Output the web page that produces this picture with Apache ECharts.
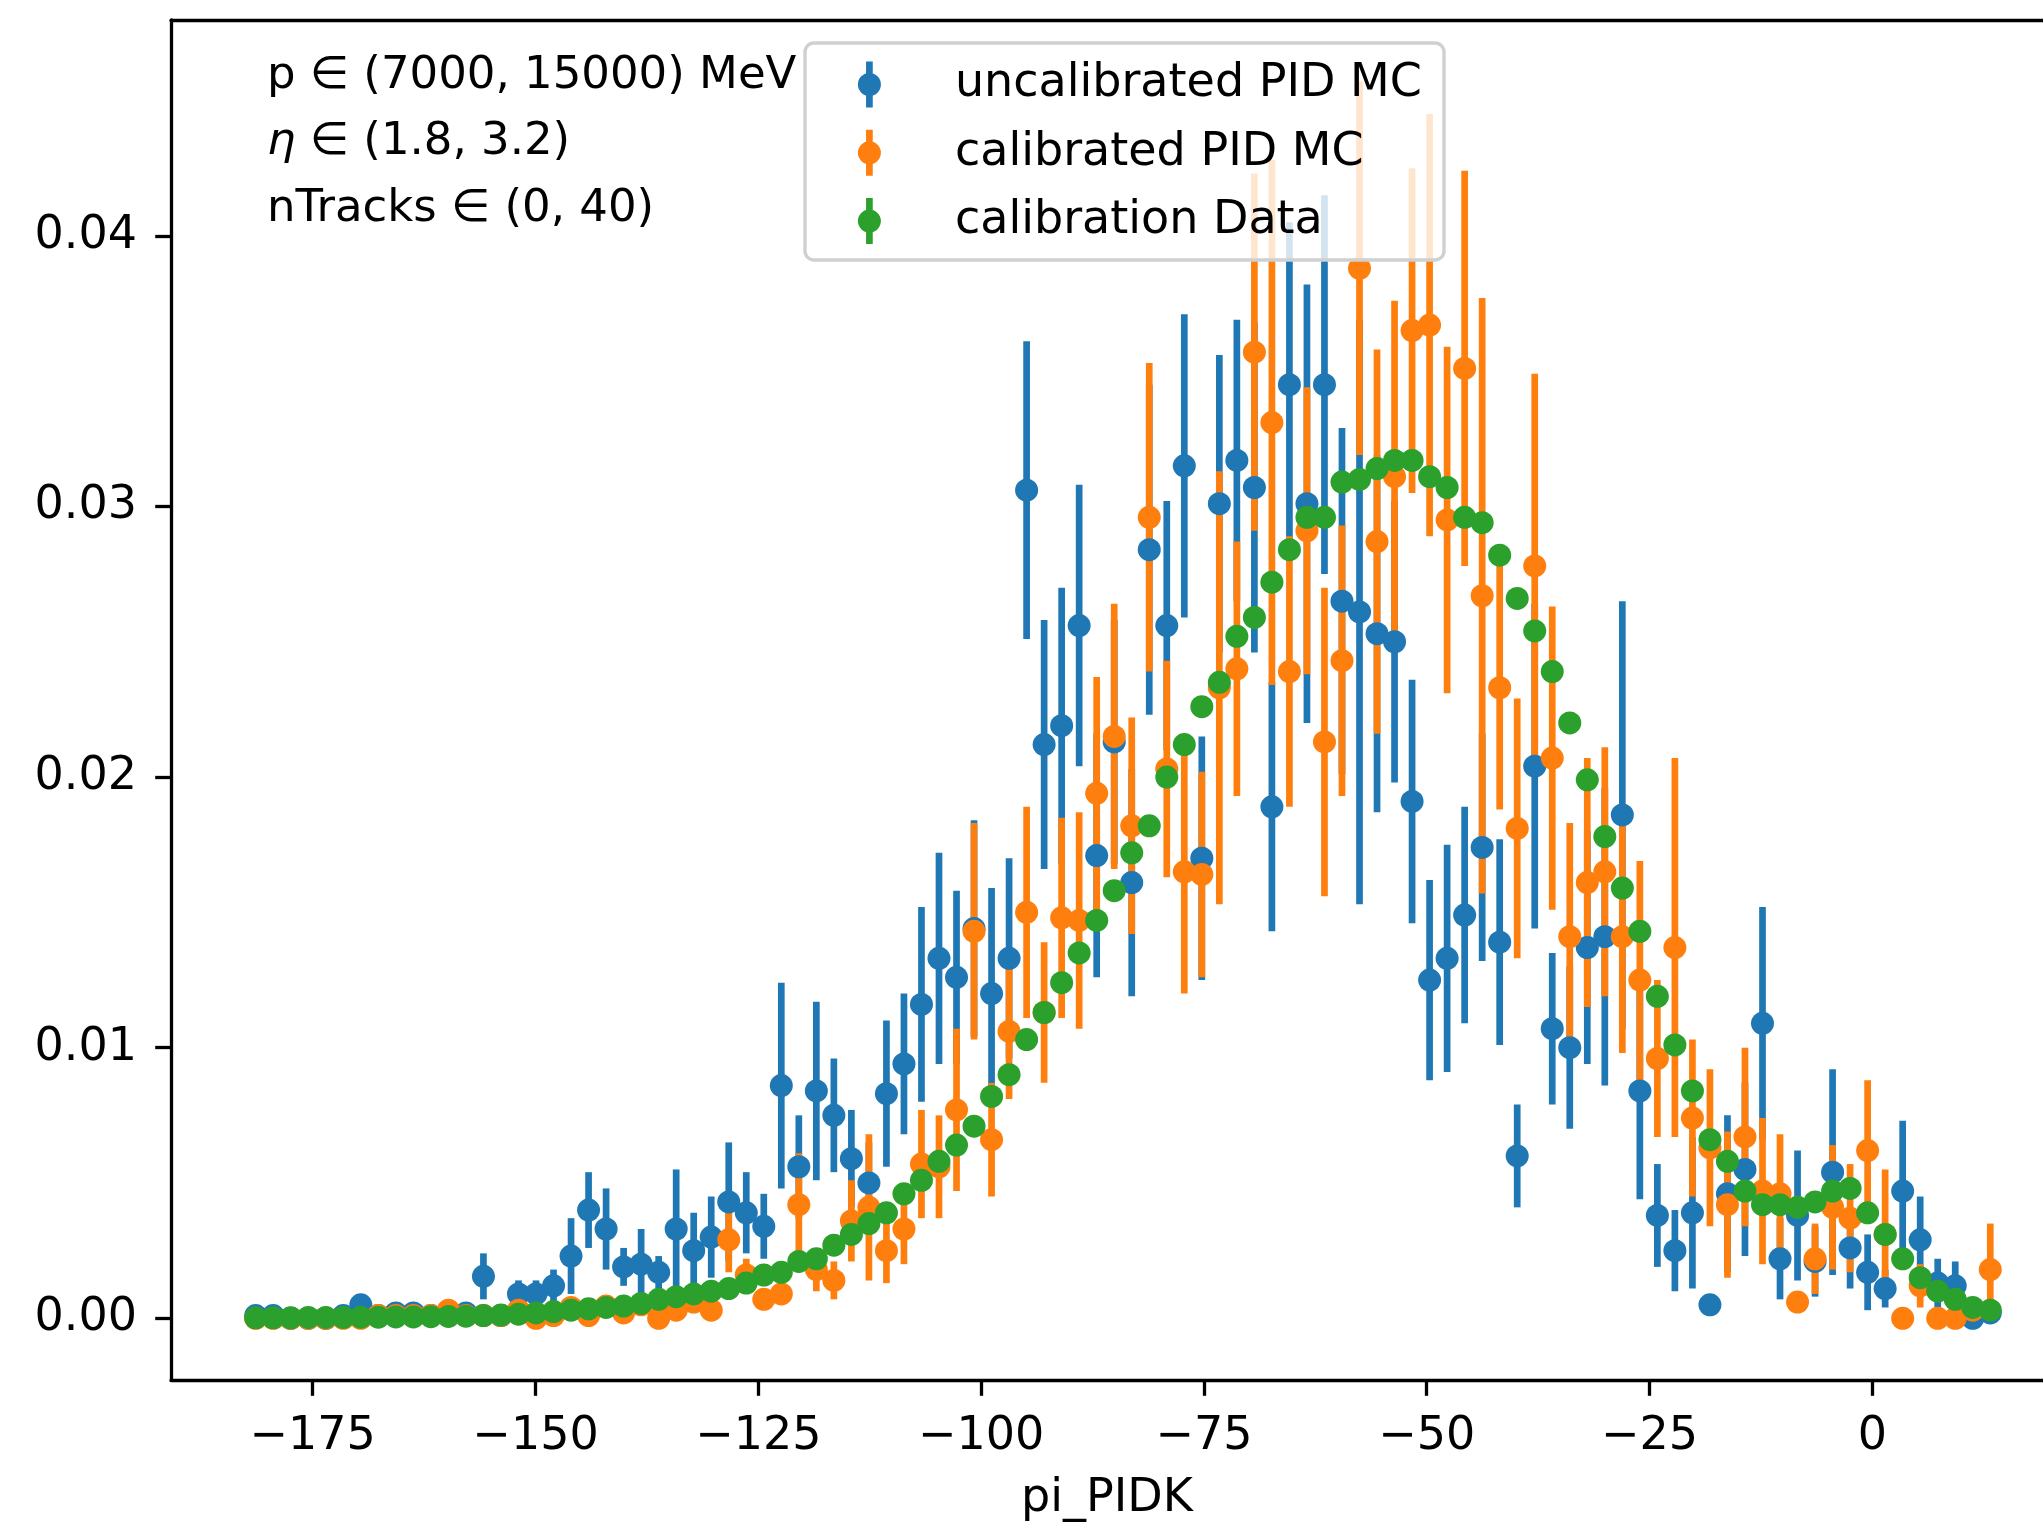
<!DOCTYPE html>
<html><head><meta charset="utf-8">
<script src="https://cdn.jsdelivr.net/npm/echarts@6/dist/echarts.min.js"></script>
<style>html,body{margin:0;padding:0;background:#fff}#c{width:2043px;height:1522px}</style>
</head><body><div id="c"></div>
<script>
// histogram binning of pi_PIDK (100 bins)
const binStart = -181.4, binWidth = 1.966, nBins = 100;
const binCenters = Array.from({length: nBins}, (_, i) => +(binStart + binWidth * i).toFixed(3));

const seriesNames = ['uncalibrated PID MC', 'calibrated PID MC', 'calibration Data'];

const uncal = [0.0001,0.0001,0.0000,0.0000,0.0000,0.0001,0.0005,0.0001,0.0002,0.0002,
  0.0001,0.0001,0.0002,0.00155,0.0001,0.0009,0.0009,0.0012,0.0023,0.0040,
  0.0033,0.0019,0.0020,0.0017,0.0033,0.0025,0.0030,0.0043,0.0039,0.0034,
  0.0086,0.0056,0.0084,0.0075,0.0059,0.0050,0.0083,0.0094,0.0116,0.0133,
  0.0126,0.0144,0.0120,0.0133,0.0306,0.0212,0.0219,0.0256,0.0171,0.0213,
  0.0161,0.0284,0.0256,0.0315,0.0170,0.0301,0.0317,0.0307,0.0189,0.0345,
  0.0301,0.0345,0.0265,0.0261,0.0253,0.0250,0.0191,0.0125,0.0133,0.0149,
  0.0174,0.0139,0.0060,0.0204,0.0107,0.0100,0.0137,0.0141,0.0186,0.0084,
  0.0038,0.0025,0.0039,0.0005,0.0046,0.0055,0.0109,0.0022,0.0038,0.0021,
  0.0054,0.0026,0.0017,0.0011,0.0047,0.0029,0.0013,0.0012,0.0000,0.0002];
const uncalErr = [0.0001,0.0001,0.0001,0.0001,0.0001,0.0001,0.0003,0.0001,0.00015,0.00015,
  0.0001,0.0001,0.00015,0.00085,0.0001,0.0005,0.0005,0.0006,0.0014,0.0014,
  0.0015,0.0007,0.0013,0.0006,0.0022,0.0014,0.0015,0.0022,0.0015,0.0012,
  0.0038,0.0019,0.0033,0.0021,0.0018,0.0015,0.0027,0.0026,0.0036,0.0039,
  0.0032,0.0040,0.0039,0.0037,0.0055,0.0046,0.0051,0.0052,0.0045,0.0045,
  0.0042,0.0061,0.0046,0.0056,0.0045,0.0055,0.0052,0.0061,0.0046,0.0060,
  0.0081,0.0070,0.0064,0.0108,0.0066,0.0052,0.0045,0.0037,0.0042,0.0040,
  0.0042,0.0038,0.0019,0.0060,0.0028,0.0030,0.0043,0.0055,0.0079,0.0040,
  0.0019,0.0015,0.0028,0.0003,0.0029,0.0032,0.0043,0.0015,0.0024,0.0013,
  0.0038,0.0015,0.0014,0.0007,0.0026,0.0016,0.0009,0.0009,0.0001,0.0002];

const cal = [0.0000,0.0000,0.0000,0.0000,0.0000,0.0000,0.0000,0.0001,0.0001,0.0001,
  0.0001,0.0003,0.0001,0.0001,0.0001,0.0003,0.0000,0.0001,0.0004,0.0001,
  0.00045,0.0002,0.0005,0.0000,0.0003,0.0006,0.0003,0.0029,0.0016,0.0007,
  0.0009,0.0042,0.0018,0.0014,0.0036,0.0041,0.0025,0.0033,0.0057,0.0056,
  0.0077,0.0143,0.0066,0.0106,0.0150,0.0113,0.0148,0.0147,0.0194,0.0215,
  0.0182,0.0296,0.0203,0.0165,0.0164,0.0233,0.0240,0.0357,0.0331,0.0239,
  0.0291,0.0213,0.0243,0.0388,0.0287,0.0311,0.0365,0.0367,0.0295,0.0351,
  0.0267,0.0233,0.0181,0.0278,0.0207,0.0141,0.0161,0.0165,0.0141,0.0125,
  0.0096,0.0137,0.0074,0.0063,0.0042,0.0067,0.0047,0.0046,0.0006,0.0022,
  0.0041,0.0037,0.0062,0.0031,0.0000,0.0012,0.0000,0.0000,0.0003,0.0018];
const calErr = [0.0000,0.0000,0.0000,0.0000,0.0000,0.0000,0.0000,0.0001,0.0001,0.0001,
  0.0001,0.0002,0.0001,0.0001,0.0001,0.0002,0.0000,0.0001,0.0002,0.0001,
  0.0002,0.0001,0.0002,0.0000,0.0002,0.0004,0.0002,0.0012,0.0006,0.0003,
  0.0004,0.0019,0.0008,0.0007,0.0015,0.0027,0.0012,0.0013,0.0020,0.0019,
  0.0030,0.0040,0.0021,0.0025,0.0039,0.0026,0.0037,0.0040,0.0043,0.0049,
  0.0040,0.0057,0.0040,0.0045,0.0038,0.0080,0.0047,0.0066,0.0097,0.0050,
  0.0053,0.0057,0.0050,0.0069,0.0071,0.0065,0.0060,0.0078,0.0064,0.0073,
  0.0110,0.0045,0.0048,0.0071,0.0056,0.0042,0.0046,0.0046,0.0043,0.0044,
  0.0029,0.0070,0.0029,0.0029,0.0027,0.0033,0.0027,0.0022,0.0003,0.0013,
  0.0023,0.0020,0.0026,0.0024,0.0000,0.0008,0.0000,0.0000,0.0002,0.0017];

const calibData = [0.00002,0.00002,0.00002,0.00003,0.00003,0.00003,0.00004,0.00004,0.00005,0.00005,
  0.00006,0.00007,0.00008,0.0001,0.00012,0.00015,0.0002,0.00025,0.0003,0.00035,
  0.0004,0.00045,0.00055,0.0007,0.0008,0.0009,0.0010,0.0011,0.0013,0.0016,
  0.0017,0.0021,0.0022,0.0027,0.0031,0.0035,0.0039,0.0046,0.0051,0.0058,
  0.0064,0.0071,0.0082,0.0090,0.0103,0.0113,0.0124,0.0135,0.0147,0.0158,
  0.0172,0.0182,0.0200,0.0212,0.0226,0.0235,0.0252,0.0259,0.0272,0.0284,
  0.0296,0.0296,0.0309,0.0310,0.0314,0.0317,0.0317,0.0311,0.0307,0.0296,
  0.0294,0.0282,0.0266,0.0254,0.0239,0.0220,0.0199,0.0178,0.0159,0.0143,
  0.0119,0.0101,0.0084,0.0066,0.0058,0.0047,0.0042,0.0042,0.0041,0.0043,
  0.0047,0.0048,0.0039,0.0031,0.0022,0.0015,0.0010,0.0007,0.0004,0.0003];
const calibDataErr = [0.00001,0.00001,0.00001,0.00001,0.00001,0.00001,0.00001,0.00001,0.00001,0.00001,
  0.00001,0.00001,0.00001,0.00002,0.00002,0.00002,0.00002,0.00003,0.00003,0.00003,
  0.00003,0.00003,0.00004,0.00004,0.00004,0.00005,0.00005,0.00005,0.00006,0.00006,
  0.00006,0.00007,0.00007,0.00008,0.00008,0.00009,0.00009,0.0001,0.0001,0.0001,
  0.0001,0.0001,0.0001,0.0001,0.0001,0.0001,0.0001,0.0001,0.0001,0.0001,
  0.0001,0.0001,0.0001,0.0001,0.0001,0.0001,0.0001,0.0001,0.0001,0.0001,
  0.0001,0.0001,0.0001,0.0001,0.0001,0.0001,0.0001,0.0001,0.0001,0.0001,
  0.0001,0.0001,0.0001,0.0001,0.0001,0.0001,0.0001,0.0001,0.0001,0.0001,
  0.0001,0.0001,0.0001,0.00008,0.00008,0.00007,0.00007,0.00007,0.00007,0.00007,
  0.00007,0.00007,0.00006,0.00006,0.00005,0.00004,0.00003,0.00003,0.00002,0.00002];

const xTicks = [-175, -150, -125, -100, -75, -50, -25, 0];
const yTicks = [0.00, 0.01, 0.02, 0.03, 0.04];
const annotations = ['p ∈ (7000, 15000) MeV', '{i|η} ∈ (1.8, 3.2)', 'nTracks ∈ (0, 40)'];

const colors = ['#1f77b4', '#ff7f0e', '#2ca02c'];
const FONT = 'DejaVu Sans';
const FS = 46;
const FS_ANN = 45;
const X_MIN = -190.9, X_MAX = 19.15, Y_MIN = -0.00228, Y_MAX = 0.047975;

function errSeries(name, vals, errs, color) {
  return {
    type: 'custom', name: name + ' (err)', silent: true, animation: false,
    data: vals.map((v, i) => [binCenters[i], v - errs[i], v + errs[i]]),
    encode: {x: 0, y: [1, 2]},
    renderItem: (params, api) => {
      const a = api.coord([api.value(0), api.value(1)]);
      const b = api.coord([api.value(0), api.value(2)]);
      return {type: 'line', shape: {x1: a[0], y1: a[1], x2: b[0], y2: b[1]},
              style: {stroke: color, lineWidth: 6.7}};
    }
  };
}
function markSeries(name, vals, color) {
  return {
    type: 'scatter', name: name, symbol: 'circle', symbolSize: 23, silent: true,
    data: vals.map((v, i) => [binCenters[i], v]),
    itemStyle: {color: color, opacity: 1}
  };
}

const legendIcon = 'path://M8.15,0 L14.85,0 L14.85,46 L8.15,46 Z M11.5,11.5 A11.5,11.5 0 1,1 11.5,34.5 A11.5,11.5 0 1,1 11.5,11.5 Z';
const spine = {show: true, onZero: false, lineStyle: {color: '#000', width: 3.3}};
const annFont = FS_ANN + 'px "' + FONT + '"';

const chart = echarts.init(document.getElementById('c'), null, {renderer: 'canvas'});
chart.setOption({
  animation: false,
  backgroundColor: '#fff',
  grid: {left: 171, top: 20, right: 0, bottom: 142, show: false, containLabel: false, outerBoundsMode: 'none'},
  xAxis: [{
    type: 'value', min: X_MIN, max: X_MAX, position: 'bottom',
    name: 'pi_PIDK', nameLocation: 'middle', nameGap: 96,
    nameTextStyle: {fontSize: FS, fontFamily: FONT, color: '#000'},
    axisLine: spine, splitLine: {show: false},
    axisTick: {show: true, length: 15.8, lineStyle: {color: '#000', width: 3.3}, customValues: xTicks},
    axisLabel: {show: true, margin: 34, fontSize: FS, fontFamily: FONT, color: '#000',
      customValues: xTicks,
      formatter: v => (v < 0 ? '\u2212' + Math.abs(v) : String(v))}
  }, {
    type: 'value', min: X_MIN, max: X_MAX, position: 'top',
    axisLine: spine, splitLine: {show: false}, axisTick: {show: false}, axisLabel: {show: false}
  }],
  yAxis: {
    type: 'value', min: Y_MIN, max: Y_MAX,
    axisLine: spine, splitLine: {show: false},
    axisTick: {show: true, length: 15.8, lineStyle: {color: '#000', width: 3.3}, customValues: yTicks},
    axisLabel: {show: true, margin: 34, fontSize: FS, fontFamily: FONT, color: '#000',
      customValues: yTicks, formatter: v => v.toFixed(2)}
  },
  legend: {
    data: seriesNames, orient: 'vertical', left: 857.9, top: 61.5, padding: 0,
    itemWidth: 23, itemHeight: 46, itemGap: 22.3,
    icon: legendIcon, selectedMode: false, z: 20,
    textStyle: {fontSize: FS, fontFamily: FONT, color: '#000', padding: [0, 0, 0, 69]}
  },
  graphic: [
    {type: 'rect', z: 15, shape: {x: 805, y: 43, width: 639, height: 217, r: 9},
     style: {fill: 'rgba(255,255,255,0.8)', stroke: '#d0d0d0', lineWidth: 3.4}},
    {type: 'text', z: 16, x: 267, y: 76,
     style: {text: annotations[0], font: annFont, fill: '#000', verticalAlign: 'middle'}},
    {type: 'text', z: 16, x: 267, y: 142,
     style: {text: annotations[1], font: annFont, fill: '#000', verticalAlign: 'middle',
       rich: {i: {fontStyle: 'italic', fontSize: FS_ANN, fontFamily: FONT, fill: '#000'}}}},
    {type: 'text', z: 16, x: 267, y: 209,
     style: {text: annotations[2], font: annFont, fill: '#000', verticalAlign: 'middle'}}
  ],
  series: [
    errSeries(seriesNames[0], uncal, uncalErr, colors[0]),
    markSeries(seriesNames[0], uncal, colors[0]),
    errSeries(seriesNames[1], cal, calErr, colors[1]),
    markSeries(seriesNames[1], cal, colors[1]),
    errSeries(seriesNames[2], calibData, calibDataErr, colors[2]),
    markSeries(seriesNames[2], calibData, colors[2])
  ]
});
</script>
</body></html>
